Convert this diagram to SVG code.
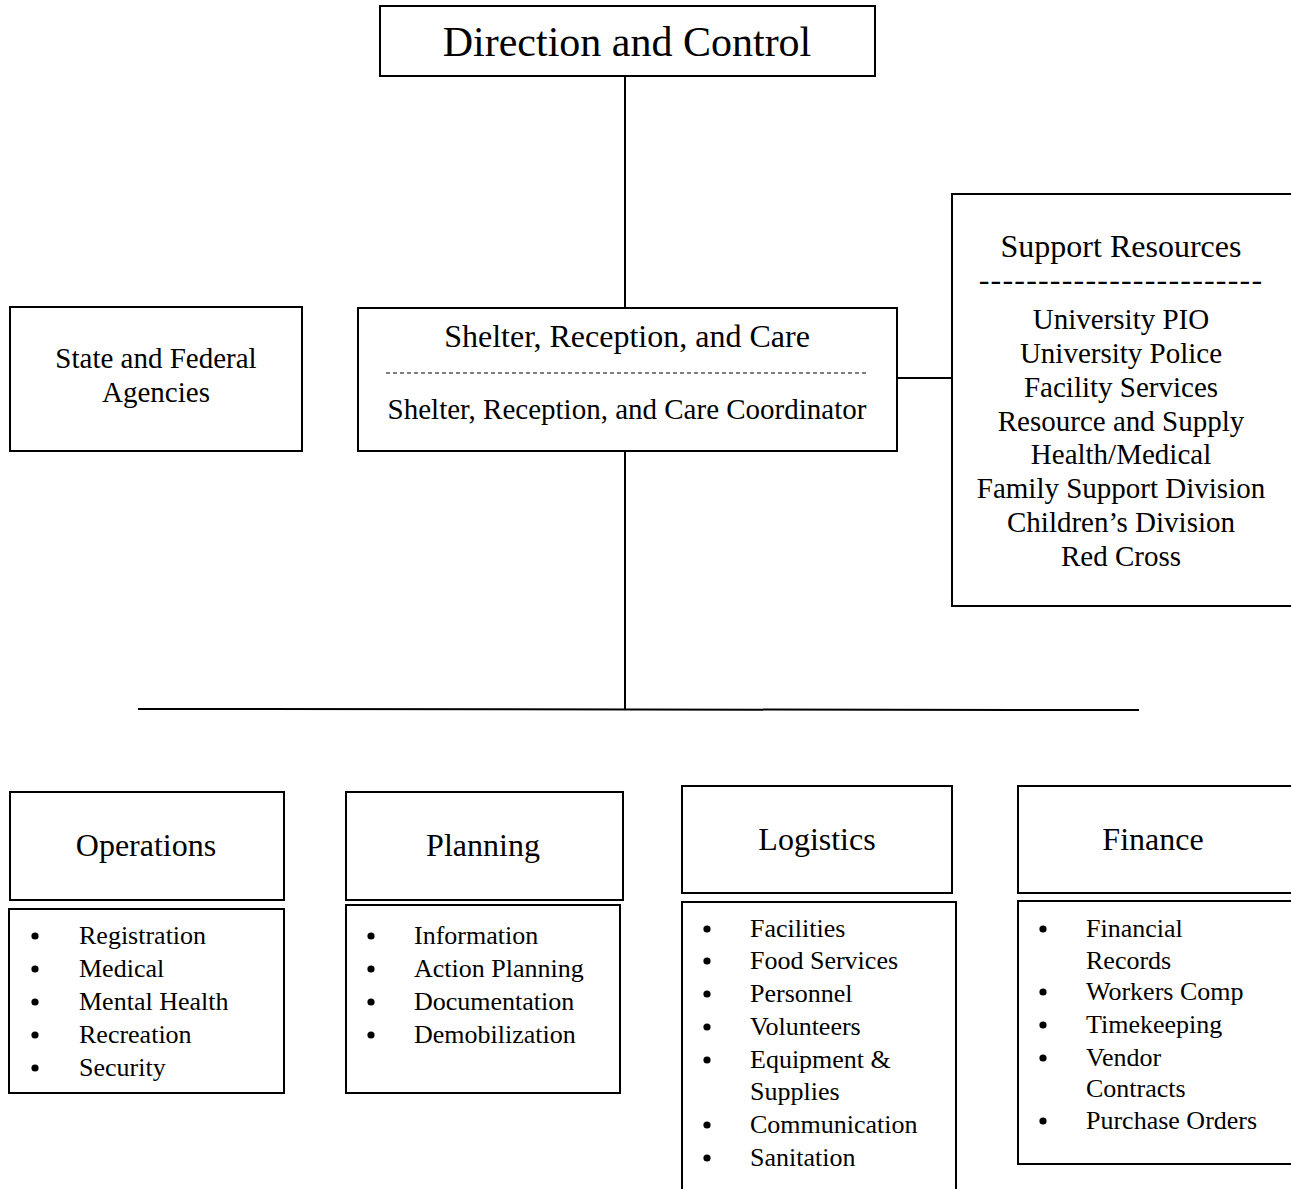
<svg xmlns="http://www.w3.org/2000/svg" width="1291" height="1189" viewBox="0 0 1291 1189">
<style>
.box{fill:#fff;stroke:#000;stroke-width:2}
.t{font-family:"Liberation Serif","Times New Roman",serif;fill:#000}
.c{text-anchor:middle}
.h{font-size:32px}
.m{font-size:29px}
.li{font-size:26px}
.conn{stroke:#000;stroke-width:2;fill:none}
.b{fill:#000}
</style>
<rect width="1291" height="1189" fill="#fff"/>
<g id="connectors">
<line class="conn" x1="625" y1="76" x2="625" y2="308"/>
<line class="conn" x1="897" y1="378" x2="952" y2="378"/>
<line class="conn" x1="625" y1="451" x2="625" y2="709"/>
<line class="conn" x1="138" y1="709" x2="1139" y2="710"/>
</g>
<g id="direction-control">
<rect class="box" x="380" y="6" width="495" height="70"/>
<text class="t c" x="627" y="56" font-size="42">Direction and Control</text>
</g>
<g id="state-federal">
<rect class="box" x="10" y="307" width="292" height="144"/>
<text class="t c m" x="156" y="368">State and Federal</text>
<text class="t c m" x="156" y="402">Agencies</text>
</g>
<g id="shelter">
<rect class="box" x="358" y="308" width="539" height="143"/>
<text class="t c h" x="627" y="347">Shelter, Reception, and Care</text>
<line x1="386" y1="373" x2="868" y2="373" stroke="#000" stroke-width="1.2" stroke-dasharray="4 3"/>
<text class="t c m" x="627" y="419">Shelter, Reception, and Care Coordinator</text>
</g>
<g id="support-resources">
<rect class="box" x="952" y="194" width="350" height="412"/>
<text class="t c h" x="1121" y="257">Support Resources</text>
<text class="t c h" x="1121" y="290" letter-spacing="1.2">------------------------</text>
<text class="t c m" x="1121" y="329">University PIO</text>
<text class="t c m" x="1121" y="363">University Police</text>
<text class="t c m" x="1121" y="397">Facility Services</text>
<text class="t c m" x="1121" y="431">Resource and Supply</text>
<text class="t c m" x="1121" y="464">Health/Medical</text>
<text class="t c m" x="1121" y="498">Family Support Division</text>
<text class="t c m" x="1121" y="532">Children’s Division</text>
<text class="t c m" x="1121" y="566">Red Cross</text>
</g>
<g id="operations">
<rect class="box" x="10" y="792" width="274" height="108"/>
<text class="t c h" x="146" y="856">Operations</text>
<rect class="box" x="9" y="909" width="275" height="184"/>
<g class="b">
<circle cx="35" cy="936" r="3.6"/><circle cx="35" cy="969" r="3.6"/><circle cx="35" cy="1002" r="3.6"/><circle cx="35" cy="1035" r="3.6"/><circle cx="35" cy="1068" r="3.6"/>
</g>
<g class="t li">
<text x="79" y="944">Registration</text>
<text x="79" y="977">Medical</text>
<text x="79" y="1010">Mental Health</text>
<text x="79" y="1043">Recreation</text>
<text x="79" y="1076">Security</text>
</g>
</g>
<g id="planning">
<rect class="box" x="346" y="792" width="277" height="108"/>
<text class="t c h" x="483" y="856">Planning</text>
<rect class="box" x="346" y="905" width="274" height="188"/>
<g class="b">
<circle cx="371" cy="936" r="3.6"/><circle cx="371" cy="969" r="3.6"/><circle cx="371" cy="1002" r="3.6"/><circle cx="371" cy="1035" r="3.6"/>
</g>
<g class="t li">
<text x="414" y="944">Information</text>
<text x="414" y="977">Action Planning</text>
<text x="414" y="1010">Documentation</text>
<text x="414" y="1043">Demobilization</text>
</g>
</g>
<g id="logistics">
<rect class="box" x="682" y="786" width="270" height="107"/>
<text class="t c h" x="817" y="850">Logistics</text>
<rect class="box" x="682" y="902" width="274" height="300"/>
<g class="b">
<circle cx="707" cy="929" r="3.6"/><circle cx="707" cy="961" r="3.6"/><circle cx="707" cy="994" r="3.6"/><circle cx="707" cy="1027" r="3.6"/><circle cx="707" cy="1060" r="3.6"/><circle cx="707" cy="1125" r="3.6"/><circle cx="707" cy="1158" r="3.6"/>
</g>
<g class="t li">
<text x="750" y="937">Facilities</text>
<text x="750" y="969">Food Services</text>
<text x="750" y="1002">Personnel</text>
<text x="750" y="1035">Volunteers</text>
<text x="750" y="1068">Equipment &amp;</text>
<text x="750" y="1100">Supplies</text>
<text x="750" y="1133">Communication</text>
<text x="750" y="1166">Sanitation</text>
</g>
</g>
<g id="finance">
<rect class="box" x="1018" y="786" width="290" height="107"/>
<text class="t c h" x="1153" y="850">Finance</text>
<rect class="box" x="1018" y="901" width="290" height="263"/>
<g class="b">
<circle cx="1043" cy="929" r="3.6"/><circle cx="1043" cy="992" r="3.6"/><circle cx="1043" cy="1025" r="3.6"/><circle cx="1043" cy="1058" r="3.6"/><circle cx="1043" cy="1121" r="3.6"/>
</g>
<g class="t li">
<text x="1086" y="937">Financial</text>
<text x="1086" y="969">Records</text>
<text x="1086" y="1000">Workers Comp</text>
<text x="1086" y="1033">Timekeeping</text>
<text x="1086" y="1066">Vendor</text>
<text x="1086" y="1097">Contracts</text>
<text x="1086" y="1129">Purchase Orders</text>
</g>
</g>
</svg>
